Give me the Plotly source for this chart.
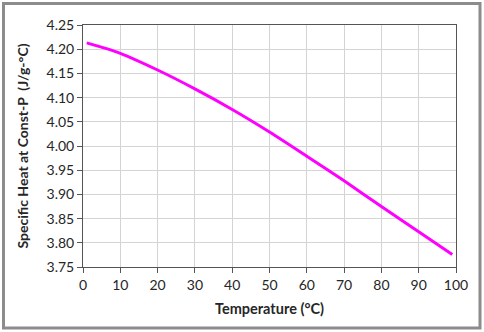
import plotly.graph_objects as go

# Specific heat at constant pressure vs temperature
temperature = [1, 10, 20, 30, 40, 50, 60, 70, 80, 90, 99]
specific_heat = [4.213, 4.1915, 4.157, 4.118, 4.0755, 4.029, 3.979, 3.928, 3.875, 3.823, 3.776]

x_ticks = list(range(0, 101, 10))
y_ticks = [round(3.75 + 0.05 * i, 2) for i in range(11)]

W, H = 484, 332
ML, MR, MT, MB = 83, 28, 25, 65
pw, ph = W - ML - MR, H - MT - MB

font_family = "Lato, 'Open Sans', sans-serif"
text_color = "#262626"

fig = go.Figure(
    go.Scatter(
        x=temperature,
        y=specific_heat,
        mode="lines",
        line=dict(color="#FF00FF", width=3, shape="spline", smoothing=0.8),
        hoverinfo="skip",
    )
)

axis_common = dict(
    showgrid=True,
    gridcolor="#D4D4D4",
    gridwidth=1,
    showline=True,
    linecolor="#555555",
    linewidth=1,
    mirror=True,
    ticks="outside",
    ticklen=5,
    tickcolor="#555555",
    tickfont=dict(family=font_family, size=14, color=text_color),
    zeroline=False,
)

fig.update_xaxes(
    range=[0, 100],
    tickvals=x_ticks,
    title=dict(text="<b>Temperature (°C)</b>", font=dict(family=font_family, size=14.5, color=text_color), standoff=12),
    **axis_common,
)
fig.update_yaxes(
    range=[3.75, 4.25],
    tickvals=y_ticks,
    tickformat=".2f",
    title=dict(text="<b>Specific Heat at Const-P  (J/g-°C)</b>", font=dict(family=font_family, size=14, color=text_color), standoff=14),
    **axis_common,
)

# Outer chart frame
def px_to_paper_x(px):
    return (px - ML) / pw

def px_to_paper_y(py):
    return (H - MB - py) / ph

fig.add_shape(
    type="rect",
    xref="paper", yref="paper",
    x0=px_to_paper_x(3.5), x1=px_to_paper_x(480),
    y0=px_to_paper_y(328), y1=px_to_paper_y(3.5),
    line=dict(color="#8C8C8C", width=3),
    fillcolor="rgba(0,0,0,0)",
    layer="above",
)

fig.update_layout(
    width=W,
    height=H,
    margin=dict(l=ML, r=MR, t=MT, b=MB),
    paper_bgcolor="white",
    plot_bgcolor="white",
    showlegend=False,
)

fig.write_html("out.html")
